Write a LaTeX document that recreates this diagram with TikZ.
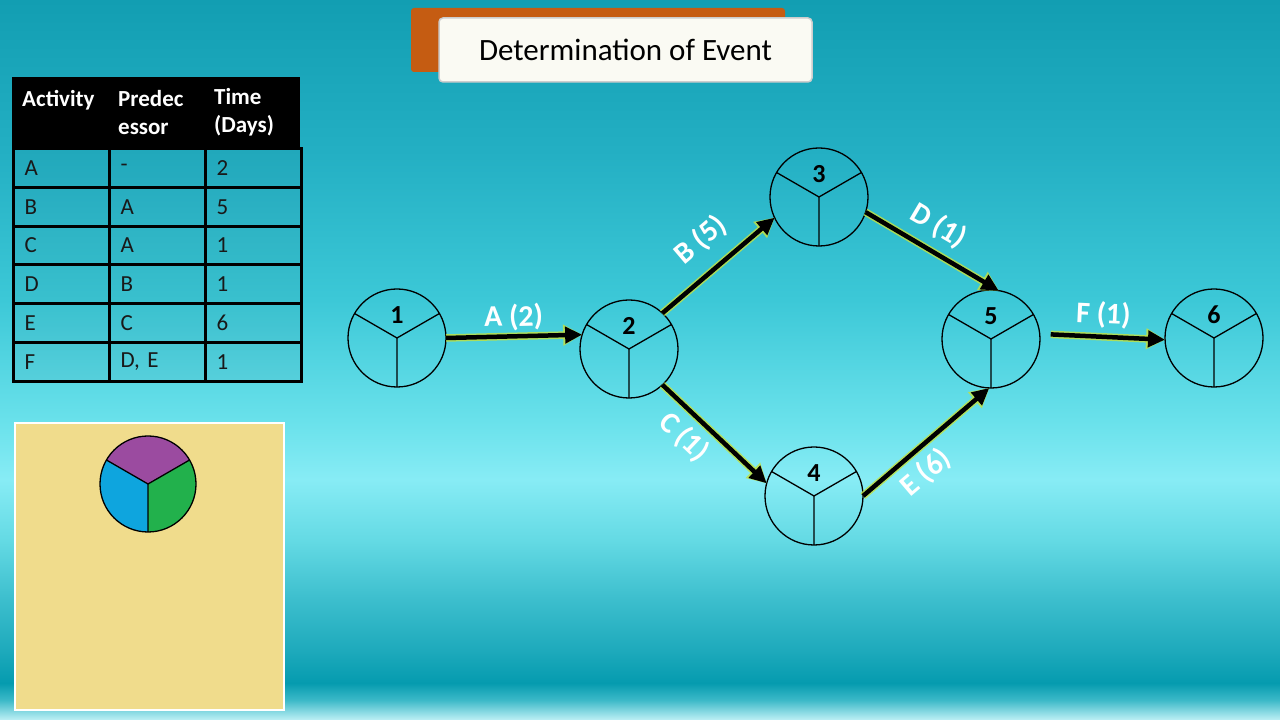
\documentclass[tikz,border=0pt]{standalone}
\usepackage{fontspec}
\setmainfont{Carlito}
\usetikzlibrary{arrows.meta,calc}
\definecolor{bgA}{RGB}{18,158,178}
\definecolor{bgB}{RGB}{35,175,195}
\definecolor{bgC}{RGB}{60,200,215}
\definecolor{bgD}{RGB}{105,225,235}
\definecolor{bgE}{RGB}{135,236,245}
\definecolor{bgF}{RGB}{100,218,228}
\definecolor{bgG}{RGB}{60,190,205}
\definecolor{bgH}{RGB}{30,170,188}
\definecolor{bgI}{RGB}{5,155,175}
\definecolor{bgJ}{RGB}{60,185,200}
\definecolor{bgK}{RGB}{190,240,245}
\definecolor{glow}{RGB}{190,225,70}
\definecolor{orangebox}{RGB}{197,92,18}
\definecolor{titlefill}{RGB}{250,250,243}
\definecolor{padfill}{RGB}{240,220,140}
\definecolor{piepurple}{RGB}{155,75,160}
\definecolor{pieblue}{RGB}{14,165,222}
\definecolor{piegreen}{RGB}{34,177,76}
\definecolor{celltext}{RGB}{25,25,25}
\pgfdeclareverticalshading{bgshade}{100bp}{color(0bp)=(bgK); color(25bp)=(bgK); color(26.39bp)=(bgJ); color(27.57bp)=(bgI); color(29.86bp)=(bgH); color(33.33bp)=(bgG); color(37.5bp)=(bgF); color(41.67bp)=(bgE); color(45.83bp)=(bgD); color(54.17bp)=(bgC); color(64.58bp)=(bgB); color(75bp)=(bgA); color(100bp)=(bgA)}
\begin{document}
\begin{tikzpicture}[x=1pt,y=1pt,
  event/.style={circle, draw=black, line width=1.3pt, minimum size=98pt, inner sep=0pt, outer sep=0pt,
    path picture={\draw[line width=1.3pt] (path picture bounding box.center) -- ++(30:49pt)
      (path picture bounding box.center) -- ++(150:49pt)
      (path picture bounding box.center) -- ++(270:49pt);},
    label={[font=\bfseries\fontsize{26}{26}\selectfont, yshift=23pt, inner sep=0pt]center:#1}},
  act/.style={line width=4.5pt, -{Triangle[length=17pt,width=16pt]},
    preaction={draw=glow, draw opacity=0.85, line width=7.5pt, -{Triangle[length=19pt,width=20pt]}}},
  lab/.style={font=\bfseries\fontsize{30}{30}\selectfont, text=white, sloped},
  cell/.style={draw=black, line width=3pt, minimum width=96pt, minimum height=38.8pt, anchor=north west,
    inner sep=0pt, text width=74pt, align=left, font=\fontsize{23}{23}\selectfont, text=celltext,
    fill=black, fill opacity=0.04, text opacity=1},
  head/.style={fill=black, minimum width=96pt, minimum height=70pt, anchor=north west, inner sep=0pt,
    text width=76pt, align=left, font=\bfseries\fontsize{23}{28}\selectfont, text=white}
]
\shade[shading=bgshade] (0,0) rectangle (1280,720);
\useasboundingbox (0,0) rectangle (1280,720);

% title
\node[fill=orangebox, rounded corners=3pt, minimum width=374pt, minimum height=64pt, inner sep=0pt] (tback) at (598,680) {};
\node[fill=titlefill, draw={rgb,255:red,205;green,205;blue,205}, line width=1.5pt, rounded corners=4pt,
  minimum width=373pt, minimum height=64pt, inner sep=0pt, font=\fontsize{31}{31}\selectfont] (title) at (625.5,670) {Determination of Event};

% table
\node[head] (h1) at (12,643) {Activity\\\phantom{x}};
\node[head] (h2) at (108,643) {Predec\\essor};
\node[head] (h3) at (204,643) {Time\\(Days)};
\foreach \a/\p/\t [count=\i] in {A/-/2, B/A/5, C/A/1, D/B/1, E/C/6, F/{D, E}/1}{
  \node[cell] (act\i) at (12,{573-38.83*(\i-1)}) {\a};
  \node[cell] (pre\i) at (108,{573-38.83*(\i-1)}) {\p};
  \node[cell] (tim\i) at (204,{573-38.83*(\i-1)}) {\t};
}

% pad with pie
\node[draw=white, line width=2.5pt, fill=padfill, minimum width=269pt, minimum height=287pt, inner sep=0pt] (pad) at (149.5,153.5) {};
\coordinate (pc) at (148,236);
\fill[piepurple] (pc) -- ++(30:48) arc (30:150:48) -- cycle;
\fill[pieblue] (pc) -- ++(150:48) arc (150:270:48) -- cycle;
\fill[piegreen] (pc) -- ++(270:48) arc (270:390:48) -- cycle;
\draw[line width=1.3pt] (pc) circle (48) (pc) -- ++(30:48) (pc) -- ++(150:48) (pc) -- ++(270:48);

% network
\node[event=1] (n1) at (397,382) {};
\node[event=2] (n2) at (629,371) {};
\node[event=3] (n3) at (819,523) {};
\node[event=4] (n4) at (814,224) {};
\node[event=5] (n5) at (991,381) {};
\node[event=6] (n6) at (1214,382) {};

\draw[act] (n1.east) -- node[lab, above=0pt] {A (2)} (n2.163);
\draw[act] (n2.47) -- node[lab, above=12pt, pos=0.52] {B (5)} (n3.205);
\draw[act] (n2.-47) -- node[lab, below=4pt, pos=0.36] {C (1)} (n4.165);
\draw[act] (n3.-18) -- node[lab, above=6pt, pos=0.45] {D (1)} (n5.81);
\draw[act] (n4.0) -- node[lab, below=4pt, pos=0.38] {E (6)} (n5.-92);
\draw[act, shorten <=11pt] (n5.6) -- node[lab, above=3pt] {F (1)} (n6.182);
\end{tikzpicture}
\end{document}
